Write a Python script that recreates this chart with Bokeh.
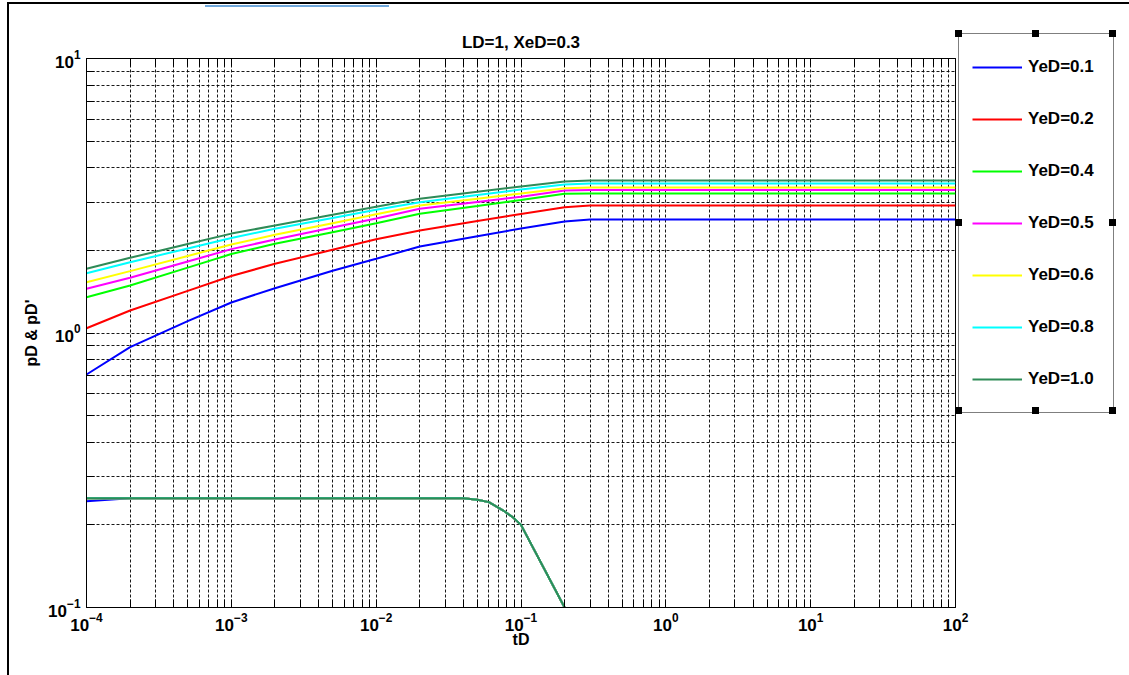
from bokeh.plotting import figure
from bokeh.models import (Range1d, LogAxis, FixedTicker, LogTickFormatter,
                          CustomJSTickFormatter, Legend, LegendItem, InlineStyleSheet)
from bokeh.embed import file_html
from bokeh.resources import INLINE

FONT = "Liberation Sans"

# ---- axis ticks -------------------------------------------------------------
x_ticks = [1e-4, 1e-3, 1e-2, 1e-1, 1e0, 1e1, 1e2]
y_ticks = [1e-1, 1e0, 1e1]
mantissas = [2, 3, 4, 5, 6, 7, 8, 9]
x_minor = [m * d for d in x_ticks[:-1] for m in mantissas]
y_minor = [m * d for d in y_ticks[:-1] for m in mantissas]

# ---- dimensionless pressure pD versus time tD ------------------------------
t_pd = [1e-4, 2e-4, 5e-4, 1e-3, 2e-3, 5e-3, 1e-2, 2e-2, 5e-2, 1e-1, 2e-1, 3e-1, 1e2]
pd_yed_01 = [0.706, 0.888, 1.105, 1.292, 1.456, 1.685, 1.863, 2.066, 2.251, 2.403, 2.548, 2.592, 2.592]
pd_yed_02 = [1.041, 1.208, 1.424, 1.613, 1.787, 2.009, 2.194, 2.362, 2.557, 2.714, 2.873, 2.914, 2.914]
pd_yed_04 = [1.350, 1.489, 1.730, 1.939, 2.113, 2.330, 2.510, 2.718, 2.902, 3.051, 3.215, 3.222, 3.222]
pd_yed_05 = [1.449, 1.589, 1.822, 2.021, 2.191, 2.422, 2.613, 2.835, 3.002, 3.134, 3.305, 3.318, 3.318]
pd_yed_06 = [1.531, 1.680, 1.908, 2.101, 2.279, 2.513, 2.707, 2.914, 3.086, 3.222, 3.370, 3.389, 3.389]
pd_yed_08 = [1.652, 1.811, 2.033, 2.219, 2.397, 2.626, 2.813, 2.996, 3.183, 3.332, 3.475, 3.504, 3.504]
pd_yed_10 = [1.713, 1.879, 2.110, 2.302, 2.464, 2.696, 2.885, 3.083, 3.268, 3.417, 3.564, 3.594, 3.594]

# ---- pressure derivative pD' ------------------------------------------------
t_dpd = [1e-4, 2e-4, 0.04, 0.05, 0.06, 0.075, 0.088, 0.1, 0.2]
dpd_yed_01 = [0.244, 0.250, 0.250, 0.247, 0.242, 0.226, 0.213, 0.200, 0.100]
dpd_yed_02 = [0.250, 0.250, 0.250, 0.247, 0.242, 0.226, 0.213, 0.200, 0.100]
dpd_yed_04 = [0.250, 0.250, 0.250, 0.247, 0.242, 0.226, 0.213, 0.200, 0.100]
dpd_yed_05 = [0.250, 0.250, 0.250, 0.247, 0.242, 0.226, 0.213, 0.200, 0.100]
dpd_yed_06 = [0.250, 0.250, 0.250, 0.247, 0.242, 0.226, 0.213, 0.200, 0.100]
dpd_yed_08 = [0.250, 0.250, 0.250, 0.247, 0.242, 0.226, 0.213, 0.200, 0.100]
dpd_yed_10 = [0.250, 0.250, 0.250, 0.247, 0.242, 0.226, 0.213, 0.200, 0.100]

labels = ["YeD=0.1", "YeD=0.2", "YeD=0.4", "YeD=0.5", "YeD=0.6", "YeD=0.8", "YeD=1.0"]
pd_series = [pd_yed_01, pd_yed_02, pd_yed_04, pd_yed_05, pd_yed_06, pd_yed_08, pd_yed_10]
dpd_series = [dpd_yed_01, dpd_yed_02, dpd_yed_04, dpd_yed_05, dpd_yed_06, dpd_yed_08, dpd_yed_10]
colors = ["#0000FF", "#FF0000", "#00FF00", "#FF00FF", "#FFFF00", "#00FFFF", "#2E8B57"]

# ---- window decorations: frame edges and legend selection handles ---------
decor_css = """
:host { position: relative; }
:host::before {
  content: ""; position: absolute; z-index: 5; pointer-events: none;
  left: 955px; top: 30px; width: 7px; height: 7px; background: black;
  box-shadow: 77px 0 0 black, 154px 0 0 black,
              0 189px 0 black, 154px 189px 0 black,
              0 377px 0 black, 77px 377px 0 black, 154px 377px 0 black;
}
:host::after {
  content: ""; position: absolute; z-index: 5; pointer-events: none;
  left: 7px; top: 2px; right: 0; bottom: 0;
  border-left: 2px solid black; border-top: 2px solid black;
  background: linear-gradient(#6FA8DC, #6FA8DC) no-repeat 196px 1px / 184px 2px;
}
"""

# ---- figure -----------------------------------------------------------------
p = figure(frame_width=869, frame_height=549,
           x_axis_type="log", y_axis_type="log",
           x_range=Range1d(1e-4, 1e2), y_range=Range1d(0.1, 10),
           min_border_left=86, min_border_right=174,
           min_border_top=58, min_border_bottom=68,
           title="LD=1, XeD=0.3",
           output_backend="svg", toolbar_location=None)
p.stylesheets = [InlineStyleSheet(css=decor_css)]
p.background_fill_color = "white"
p.border_fill_color = "white"
p.outline_line_color = "black"
p.outline_line_width = 1

p.title.align = "center"
p.title.text_font = FONT
p.title.text_font_size = "17px"
p.title.text_font_style = "bold"
p.title.text_color = "black"
p.title.standoff = 14

x_ticker = FixedTicker(ticks=x_ticks, minor_ticks=x_minor)
y_ticker = FixedTicker(ticks=y_ticks, minor_ticks=y_minor)

bottom_axis = p.below[0]
left_axis = p.left[0]
top_axis = LogAxis(formatter=CustomJSTickFormatter(code="return ''"))
p.add_layout(top_axis, "above")

for ax, tk in [(bottom_axis, x_ticker), (top_axis, x_ticker), (left_axis, y_ticker)]:
    ax.ticker = tk
    ax.major_tick_in = 8
    ax.major_tick_out = 0
    ax.minor_tick_in = 8
    ax.minor_tick_out = 0
    ax.axis_line_color = "black"
    ax.major_tick_line_color = "black"
    ax.minor_tick_line_color = "black"
    ax.major_label_text_font = FONT
    ax.major_label_text_font_size = "17px"
    ax.major_label_text_font_style = "bold"
    ax.major_label_text_color = "black"

top_axis.major_label_standoff = 0
bottom_axis.formatter = LogTickFormatter()
left_axis.formatter = LogTickFormatter()
bottom_axis.major_label_standoff = 5
left_axis.major_label_standoff = 6

bottom_axis.axis_label = "tD"
left_axis.axis_label = "pD & pD'"
for ax in (bottom_axis, left_axis):
    ax.axis_label_text_font = FONT
    ax.axis_label_text_font_size = "16px"
    ax.axis_label_text_font_style = "bold"
    ax.axis_label_text_color = "black"
bottom_axis.axis_label_standoff = -3
left_axis.axis_label_standoff = 5

for g, tk in [(p.xgrid[0], x_ticker), (p.ygrid[0], y_ticker)]:
    g.ticker = tk
    g.grid_line_color = "black"
    g.grid_line_dash = "3 2"
    g.grid_line_alpha = 0.9
    g.minor_grid_line_color = "black"
    g.minor_grid_line_dash = "3 2"
    g.minor_grid_line_alpha = 0.9

# ---- curves -----------------------------------------------------------------
items = []
for lab, pdv, dpdv, col in zip(labels, pd_series, dpd_series, colors):
    r = p.line(t_pd, pdv, line_color=col, line_width=2)
    p.line(t_dpd, dpdv, line_color=col, line_width=2)
    items.append(LegendItem(label=lab, renderers=[r]))

# ---- legend -----------------------------------------------------------------
legend = Legend(items=items, location=(3, 194),
                padding=13, spacing=12, margin=0,
                glyph_width=50, glyph_height=40, label_height=40,
                label_standoff=6, label_width=72,
                label_text_font=FONT, label_text_font_size="17px",
                label_text_font_style="bold", label_text_color="black",
                border_line_color="black", border_line_width=1,
                background_fill_color="white", background_fill_alpha=1.0)
p.add_layout(legend, "right")

open("out.html", "w").write(file_html(p, INLINE))
